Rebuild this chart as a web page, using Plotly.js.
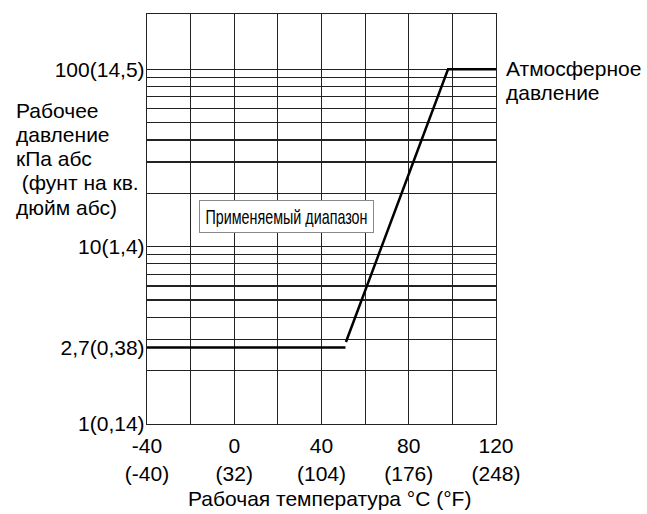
<!DOCTYPE html>
<html>
<head>
<meta charset="utf-8">
<script src="https://cdn.plot.ly/plotly-3.0.1.min.js"></script>
<style>
html,body{margin:0;padding:0;background:#fff;}
#chart{width:647px;height:514px;}
</style>
</head>
<body>
<div id="chart"></div>
<script>
// Data
var tempC = [-40, 51, null, 51.2, 98, 120];
var pressureKPa = [2.7, 2.7, null, 2.9, 100, 100];

var xTickVals = [-40, -20, 0, 20, 40, 60, 80, 100, 120];
var xTickText = ['-40<br>(-40)', '', '0<br>(32)', '', '40<br>(104)', '', '80<br>(176)', '', '120<br>(248)'];
var yTickVals = [1, 2.7, 10, 100];
var yTickText = ['1(0,14)', '2,7(0,38)', '10(1,4)', '100(14,5)'];
var yGridVals = [2, 3, 4, 5, 6, 7, 8, 9, 10, 20, 30, 40, 50, 60, 70, 80, 90, 100];

var yTitleLines = ['Рабочее', 'давление', 'кПа абс', ' (фунт на кв.', 'дюйм абс)'];
var xTitleText = 'Рабочая температура °C (°F)';
var atmLines = ['Атмосферное', 'давление'];
var rangeText = 'Применяемый диапазон';

var font = 'Liberation Sans, Arial, sans-serif';
var fs = 21;
var gridColor = '#222';

var trace = {
  x: tempC, y: pressureKPa, type: 'scatter', mode: 'lines',
  connectgaps: false,
  line: {color: '#000', width: 2.5},
  hoverinfo: 'skip', showlegend: false
};

// plot area in pixels: left 147, top 14, width 349, height 410
function px2paperY(py) { return (424 - py) / 410; }
function px2paperX(px) { return (px - 147) / 349; }

var annotations = [];
yTitleLines.forEach(function (t, i) {
  annotations.push({text: t, xref: 'paper', yref: 'paper', x: px2paperX(14), y: px2paperY(110 + i * 24.3),
    xanchor: 'left', yanchor: 'middle', align: 'left', showarrow: false,
    font: {family: font, size: fs, color: '#000'}});
});
atmLines.forEach(function (t, i) {
  annotations.push({text: t, xref: 'paper', yref: 'paper', x: px2paperX(504), y: px2paperY(68 + i * 25),
    xanchor: 'left', yanchor: 'middle', align: 'left', showarrow: false,
    font: {family: font, size: fs, color: '#000'}});
});
annotations.push({text: xTitleText, xref: 'paper', yref: 'paper', x: px2paperX(329), y: px2paperY(498),
  xanchor: 'center', yanchor: 'middle', showarrow: false, font: {family: font, size: fs, color: '#000'}});
annotations.push({text: rangeText, xref: 'paper', yref: 'paper', x: px2paperX(286.5), y: px2paperY(216.5),
  xanchor: 'center', yanchor: 'middle', showarrow: false, bgcolor: '#fff', bordercolor: '#888',
  borderwidth: 1, borderpad: 5, width: 163, height: 21, align: 'center',
  font: {family: 'Liberation Sans, Arial, sans-serif', size: 21, color: '#000'}});

var layout = {
  width: 647, height: 514,
  margin: {l: 147, r: 151, t: 14, b: 90},
  paper_bgcolor: '#fff', plot_bgcolor: '#fff',
  font: {family: font, size: fs, color: '#000'},
  showlegend: false,
  xaxis: {
    range: [-40, 120], tickmode: 'array', tickvals: xTickVals, ticktext: xTickText,
    showgrid: true, gridcolor: gridColor, gridwidth: 1.2,
    zeroline: false, showline: true, linecolor: gridColor, linewidth: 1.2, mirror: true,
    ticks: '', ticklabelstandoff: 3, tickfont: {family: font, size: fs, color: '#000'}, fixedrange: true
  },
  yaxis: {
    type: 'log', range: [0, 2.312], tickmode: 'array', tickvals: yTickVals, ticktext: yTickText,
    showgrid: false, zeroline: false, showline: true, linecolor: gridColor, linewidth: 1.2, mirror: true,
    ticks: '', ticklabelstandoff: -3, tickfont: {family: font, size: fs, color: '#000'}, fixedrange: true,
    minor: {tickmode: 'array', tickvals: yGridVals, showgrid: true, gridcolor: gridColor, gridwidth: 1.2, ticks: ''}
  },
  annotations: annotations
};

Plotly.newPlot('chart', [trace], layout, {displayModeBar: false, staticPlot: true}).then(function () {
  // condense the boxed label to mimic the narrow typeface of the original
  var anns = document.querySelectorAll('#chart .annotation');
  var last = anns[anns.length - 1];
  if (last) {
    var t = last.querySelector('text.annotation-text');
    if (t) {
      t.setAttribute('textLength', '162');
      t.setAttribute('lengthAdjust', 'spacingAndGlyphs');
    }
  }
});
</script>
</body>
</html>
